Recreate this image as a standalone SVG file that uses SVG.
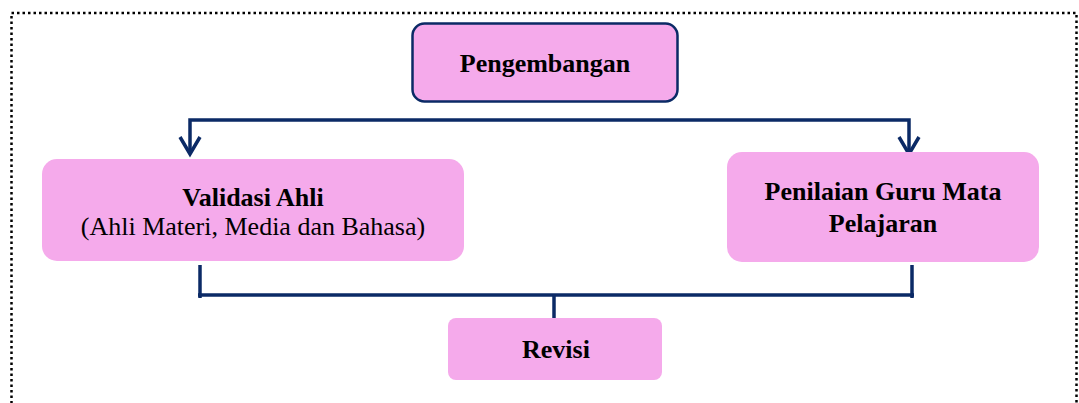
<svg xmlns="http://www.w3.org/2000/svg" width="1079" height="403" viewBox="0 0 1079 403">
  <style>
    .box { fill: #f5aaeb; }
    .outlined { stroke: #0b2a66; stroke-width: 2.5; }
    .link { fill: none; stroke: #0b2a66; stroke-width: 3.5; }
    .head { fill: none; stroke: #0b2a66; stroke-width: 3.5; stroke-linecap: butt; stroke-linejoin: miter; }
    .label { font-family: "Liberation Serif", "Times New Roman", serif; font-size: 26px; fill: #000; text-anchor: middle; }
    .bold { font-weight: bold; }
    .frame { fill: none; stroke: #000; stroke-width: 2.5; stroke-dasharray: 2.5 3; }
  </style>

  <!-- dotted outer frame -->
  <rect class="frame" x="11.5" y="13" width="1065" height="420"/>

  <!-- connectors -->
  <g id="connectors">
    <!-- split from Pengembangan to both assessment steps -->
    <polyline class="link" points="190,154 190,120 909,120 909,154"/>
    <polyline class="head" points="180,137 190,154 200,137"/>
    <polyline class="head" points="899,137 909,154 919,137"/>
    <!-- merge into Revisi -->
    <polyline class="link" points="200,265 200,298"/>
    <polyline class="link" points="912,265 912,298"/>
    <line class="link" x1="198" y1="295" x2="914" y2="295"/>
    <line class="link" x1="554" y1="295" x2="554" y2="319"/>
  </g>

  <g id="pengembangan">
    <rect class="box outlined" x="412.5" y="23.5" width="265" height="78" rx="12"/>
    <text class="label bold" x="545" y="72">Pengembangan</text>
  </g>

  <g id="validasi-ahli">
    <rect class="box" x="42" y="159" width="422" height="102" rx="15"/>
    <text class="label bold" x="253" y="206">Validasi Ahli</text>
    <text class="label" x="253" y="235">(Ahli Materi, Media dan Bahasa)</text>
  </g>

  <g id="penilaian-guru">
    <rect class="box" x="727" y="152" width="312" height="110" rx="15"/>
    <text class="label bold" x="883" y="200">Penilaian Guru Mata</text>
    <text class="label bold" x="883" y="232">Pelajaran</text>
  </g>

  <g id="revisi">
    <rect class="box" x="448" y="318" width="214" height="62" rx="8"/>
    <text class="label bold" x="556" y="358">Revisi</text>
  </g>
</svg>
